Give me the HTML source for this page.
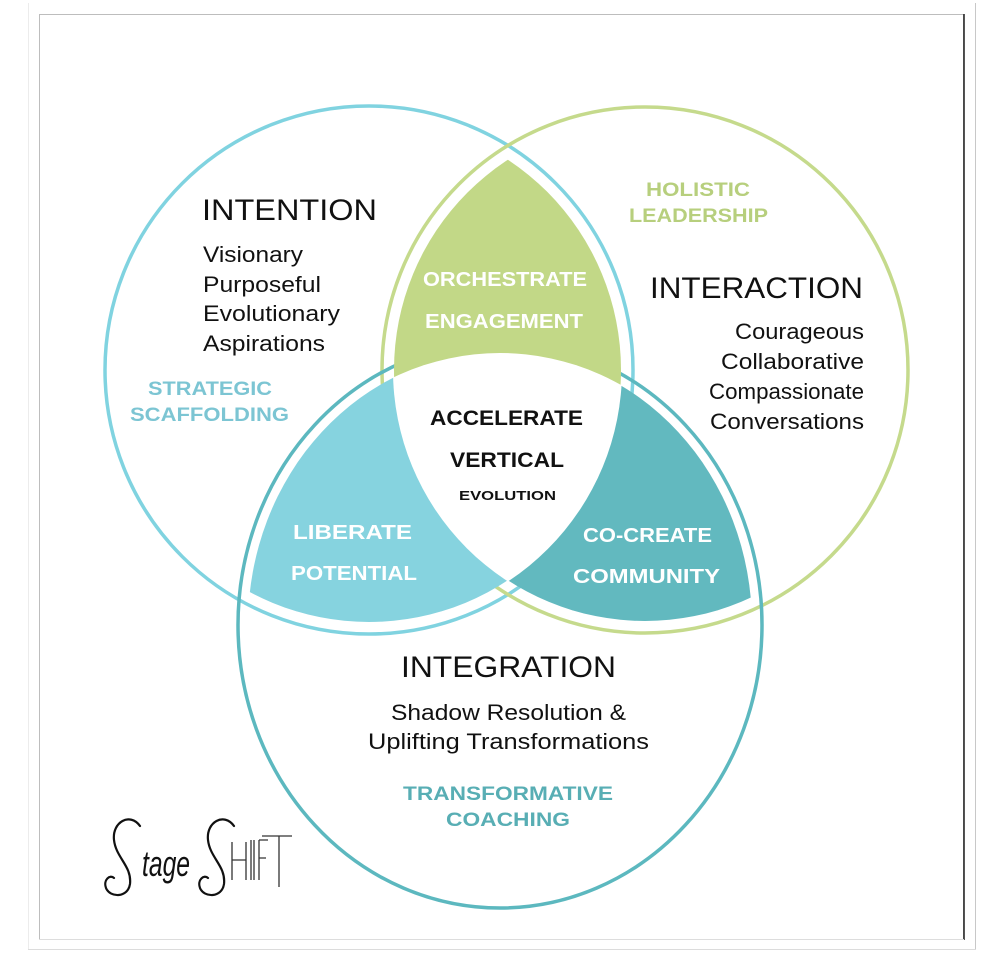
<!DOCTYPE html>
<html><head><meta charset="utf-8"><style>
html,body{margin:0;padding:0;background:#fff;}
svg{display:block;}
text{font-family:"Liberation Sans",sans-serif;}
</style></head><body>
<svg width="1004" height="954" viewBox="0 0 1004 954" xmlns="http://www.w3.org/2000/svg">
<defs>
<clipPath id="Li"><circle cx="369" cy="370" r="252"/></clipPath>
<clipPath id="Ri"><circle cx="645" cy="370" r="251"/></clipPath>
<clipPath id="Bi"><ellipse cx="500" cy="625" rx="252" ry="273"/></clipPath>
<clipPath id="Li2"><circle cx="369" cy="370" r="253"/></clipPath>
<clipPath id="Ri2"><circle cx="645" cy="370" r="252"/></clipPath>
</defs>
<!-- frame -->
<line x1="28.5" y1="3" x2="28.5" y2="950" stroke="#ececec" stroke-width="1"/>
<line x1="975.5" y1="3" x2="975.5" y2="950" stroke="#c8c8c8" stroke-width="1"/>
<line x1="28" y1="949.5" x2="976" y2="949.5" stroke="#dcdcdc" stroke-width="1"/>
<rect x="39.5" y="14.5" width="924" height="925" fill="none" stroke="#bdbdbd" stroke-width="1"/>
<line x1="964" y1="14" x2="964" y2="940" stroke="#2a2a2a" stroke-width="1.6"/>
<line x1="39" y1="939.5" x2="964" y2="939.5" stroke="#dddddd" stroke-width="1"/>

<!-- strokes (under fills) -->
<circle cx="369" cy="370" r="264" fill="none" stroke="#80d3e0" stroke-width="3.5"/>
<circle cx="645" cy="370" r="263" fill="none" stroke="#c5da8c" stroke-width="3.5"/>
<ellipse cx="500" cy="625" rx="262" ry="283" fill="none" stroke="#5cb8bf" stroke-width="3.5"/>

<!-- fills -->
<g clip-path="url(#Li)"><rect x="0" y="0" width="1004" height="954" fill="#86d3df" clip-path="url(#Bi)"/></g>
<g clip-path="url(#Ri)"><rect x="0" y="0" width="1004" height="954" fill="#62b9bf" clip-path="url(#Bi)"/></g>
<g clip-path="url(#Li)"><rect x="0" y="0" width="1004" height="954" fill="#c2d887" clip-path="url(#Ri)"/></g>
<g clip-path="url(#Li2)"><g clip-path="url(#Ri2)"><ellipse cx="500" cy="636" rx="262" ry="283" fill="#fff"/></g></g>

<!-- INTENTION -->
<text x="202" y="220" font-size="30" fill="#111" textLength="175" lengthAdjust="spacingAndGlyphs">INTENTION</text>
<g font-size="22" fill="#111">
<text x="203" y="262" textLength="100" lengthAdjust="spacingAndGlyphs">Visionary</text>
<text x="203" y="292" textLength="118" lengthAdjust="spacingAndGlyphs">Purposeful</text>
<text x="203" y="321" textLength="137" lengthAdjust="spacingAndGlyphs">Evolutionary</text>
<text x="203" y="351" textLength="122" lengthAdjust="spacingAndGlyphs">Aspirations</text>
</g>
<g font-size="19" font-weight="bold" fill="#7cc5d3">
<text x="148" y="395" textLength="124" lengthAdjust="spacingAndGlyphs">STRATEGIC</text>
<text x="130" y="421" textLength="159" lengthAdjust="spacingAndGlyphs">SCAFFOLDING</text>
</g>
<g font-size="19" font-weight="bold" fill="#b7cf7d">
<text x="646" y="196" textLength="104" lengthAdjust="spacingAndGlyphs">HOLISTIC</text>
<text x="629" y="222" textLength="139" lengthAdjust="spacingAndGlyphs">LEADERSHIP</text>
</g>
<!-- INTERACTION -->
<text x="650" y="298" font-size="30" fill="#111" textLength="213" lengthAdjust="spacingAndGlyphs">INTERACTION</text>
<g font-size="22" fill="#111">
<text x="735" y="339" textLength="129" lengthAdjust="spacingAndGlyphs">Courageous</text>
<text x="721" y="369" textLength="143" lengthAdjust="spacingAndGlyphs">Collaborative</text>
<text x="709" y="399" textLength="155" lengthAdjust="spacingAndGlyphs">Compassionate</text>
<text x="710" y="429" textLength="154" lengthAdjust="spacingAndGlyphs">Conversations</text>
</g>
<!-- lens labels -->
<g font-size="20" font-weight="bold" fill="#fff">
<text x="423" y="286" textLength="164" lengthAdjust="spacingAndGlyphs">ORCHESTRATE</text>
<text x="425" y="328" textLength="158" lengthAdjust="spacingAndGlyphs">ENGAGEMENT</text>
<text x="293" y="539" textLength="119" lengthAdjust="spacingAndGlyphs">LIBERATE</text>
<text x="291" y="580" textLength="126" lengthAdjust="spacingAndGlyphs">POTENTIAL</text>
<text x="583" y="542" textLength="129" lengthAdjust="spacingAndGlyphs">CO-CREATE</text>
<text x="573" y="583" textLength="147" lengthAdjust="spacingAndGlyphs">COMMUNITY</text>
</g>
<g font-size="21" font-weight="bold" fill="#111">
<text x="430" y="425" textLength="153" lengthAdjust="spacingAndGlyphs">ACCELERATE</text>
<text x="450" y="467" textLength="114" lengthAdjust="spacingAndGlyphs">VERTICAL</text>
</g>
<text x="459" y="500" font-size="13" font-weight="bold" fill="#111" textLength="97" lengthAdjust="spacingAndGlyphs">EVOLUTION</text>
<!-- INTEGRATION -->
<text x="401" y="677" font-size="30" fill="#111" textLength="215" lengthAdjust="spacingAndGlyphs">INTEGRATION</text>
<g font-size="22" fill="#111">
<text x="391" y="720" textLength="235" lengthAdjust="spacingAndGlyphs">Shadow Resolution &amp;</text>
<text x="368" y="749" textLength="281" lengthAdjust="spacingAndGlyphs">Uplifting Transformations</text>
</g>
<g font-size="19" font-weight="bold" fill="#58aeb4">
<text x="403" y="800" textLength="210" lengthAdjust="spacingAndGlyphs">TRANSFORMATIVE</text>
<text x="446" y="826" textLength="124" lengthAdjust="spacingAndGlyphs">COACHING</text>
</g>
<!-- logo -->
<g fill="none" stroke="#111" stroke-width="2.2" stroke-linecap="round">
<path d="M140,826 C130,812 112,822 114,840 C116,858 132,866 130,884 C128,898 110,898 106,888 C103,880 110,874 114,878"/>
<path d="M234,826 C224,812 206,822 208,840 C210,858 226,866 224,884 C222,898 204,898 200,888 C197,880 204,874 208,878"/>
</g>
<text x="142" y="876" font-family="Liberation Serif,serif" font-style="italic" font-size="36" fill="#111" textLength="48" lengthAdjust="spacingAndGlyphs">tage</text>
<g stroke="#333" stroke-width="1.3" fill="none">
<path d="M232 842 V880 M232 860 H246 M246 842 V880"/>
<path d="M251 840 V880 M254 840 V880"/>
<path d="M259 840 V880 M259 840 H268 M259 858 H266"/>
<path d="M262 836 H292 M279 836 V887"/>
</g>
</svg>
</body></html>
